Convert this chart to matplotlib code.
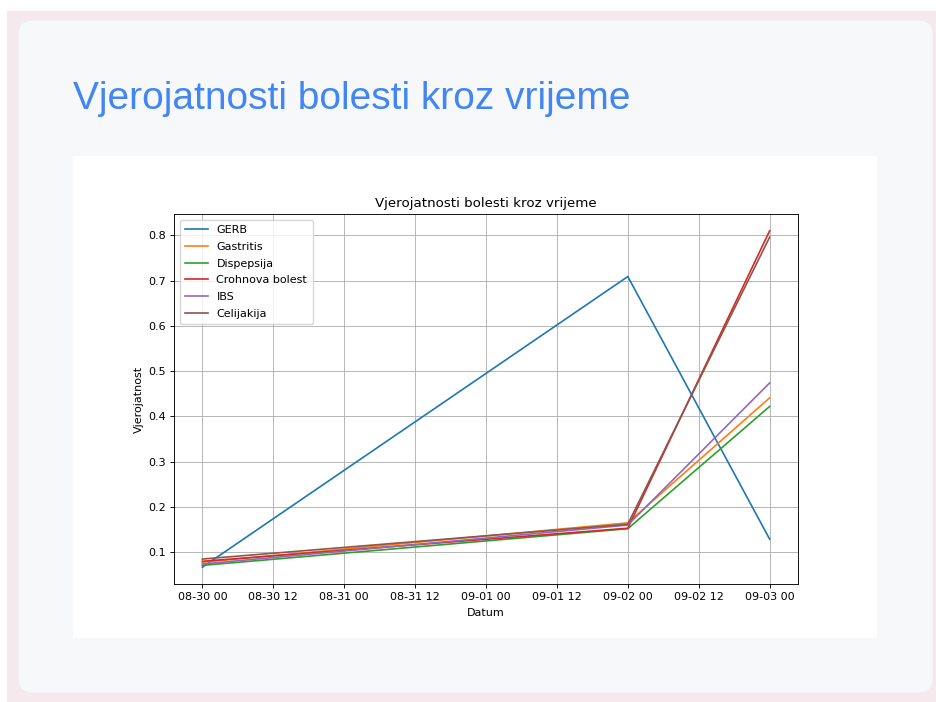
import numpy as np
import pandas as pd
import matplotlib
matplotlib.use("Agg")
import matplotlib.pyplot as plt
import matplotlib.dates as mdates
from matplotlib.patches import FancyBboxPatch, Rectangle

# Data
dates = pd.to_datetime(["2024-08-30 00:00", "2024-09-02 00:00", "2024-09-03 00:00"])
diseases = ["GERB", "Gastritis", "Dispepsija", "Crohnova bolest", "IBS", "Celijakija"]
gerb = [0.067, 0.709, 0.129]
gastritis = [0.078, 0.165, 0.441]
dispepsija = [0.071, 0.152, 0.422]
crohn = [0.080, 0.153, 0.810]
ibs = [0.074, 0.160, 0.474]
celijakija = [0.085, 0.162, 0.796]
series = [gerb, gastritis, dispepsija, crohn, ibs, celijakija]
colors = ["#1f77b4", "#ff7f0e", "#2ca02c", "#d62728", "#9467bd", "#8c564b"]

W, H = 937, 702
fig = plt.figure(figsize=(W / 100, H / 100), dpi=100)
fig.patch.set_facecolor("white")

def px(x, y, w, h):
    # pixel box (top-left origin) -> figure fraction
    return [x / W, 1 - (y + h) / H, w / W, h / H]

# page background and card
bg = fig.add_axes([0, 0, 1, 1])
bg.set_xlim(0, W)
bg.set_ylim(H, 0)
bg.axis("off")
bg.add_patch(Rectangle((7, 11), W - 7, H - 11, facecolor="#f6e9ee", edgecolor="none"))
bg.add_patch(FancyBboxPatch((20, 23), 915 - 4, 673 - 4, boxstyle="round,pad=0,rounding_size=15",
                            facecolor="#e9e3e8", edgecolor="none"))
bg.add_patch(FancyBboxPatch((18, 20), 915, 673, boxstyle="round,pad=0,rounding_size=15",
                            facecolor="#f7f8fa", edgecolor="#eeeef2", linewidth=0.8))
bg.add_patch(Rectangle((73, 156), 804, 482, facecolor="white", edgecolor="none"))
bg.text(73, 109, "Vjerojatnosti bolesti kroz vrijeme", fontsize=28, color="#4285f4",
        family="Liberation Sans", va="baseline", ha="left")

# inner matplotlib chart (10x6 figure scaled down to about 0.804)
s = 0.804
ax = fig.add_axes(px(174, 214, 624, 370))
for d, vals, c in zip(diseases, series, colors):
    ax.plot(dates, vals, label=d, color=c, linewidth=1.5 * s)

ax.set_title("Vjerojatnosti bolesti kroz vrijeme", fontsize=12 * s, pad=6 * s)
ax.set_xlabel("Datum", fontsize=10 * s, labelpad=5 * s)
ax.set_ylabel("Vjerojatnost", fontsize=10 * s, labelpad=4 * s)
ax.xaxis.set_major_locator(mdates.HourLocator(byhour=[0, 12]))
ax.xaxis.set_major_formatter(mdates.DateFormatter("%m-%d %H"))
ax.set_yticks([0.1, 0.2, 0.3, 0.4, 0.5, 0.6, 0.7, 0.8])
ax.tick_params(labelsize=10 * s, width=0.8 * s, length=3.5 * s, pad=4 * s)
for sp in ax.spines.values():
    sp.set_linewidth(0.8 * s)
ax.grid(True, linewidth=0.8 * s, color="#b0b0b0")
ax.legend(loc="upper left", fontsize=10 * s, handlelength=2, framealpha=0.8,
          labelspacing=0.6, borderpad=0.5)

fig.savefig("out.png", dpi=100)
